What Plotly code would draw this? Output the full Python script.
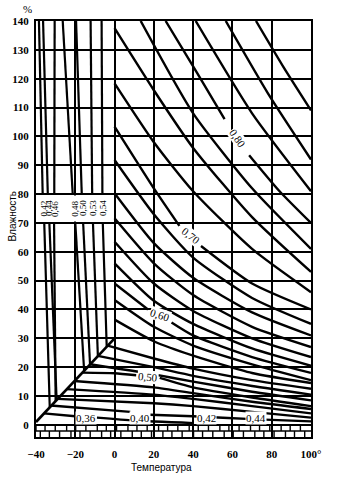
import plotly.graph_objects as go

# ---------------- data ----------------
x_ticks = [-40, -20, 0, 20, 40, 60, 80, 100]
x_ticktext = ["\u221240", "\u221220", "0", "20", "40", "60", "80", "100\u00b0"]
y_ticks = list(range(0, 141, 10))

# right / lower family of isolines (temperature, humidity), None = label gap
right_lines = [
    [(72, 140), (86, 124), (100, 109)],
    [(56.6, 140), (78, 115), (100, 92)],
    [(41.3, 140), (70, 108), (100, 81)],
    [(26, 140), (42, 122), (56, 106), None, (68.5, 93.5), (84, 81), (100, 70)],
    [(13.3, 140), (40, 108), (70, 82), (100, 61)],
    [(0, 137.5), (20, 116), (40, 96), (70, 72), (100, 53)],
    [(0, 118.4), (20, 98), (40, 81), (70, 61), (100, 46)],
    [(0, 103.4), (20, 82), (33, 69), None, (44, 62), (70, 49), (100, 40)],
    [(0, 91.8), (20, 73), (40, 58), (70, 44), (100, 35)],
    [(0, 80.3), (20, 63), (40, 51), (70, 39), (100, 31)],
    [(0, 71.6), (20, 56), (40, 45), (70, 34), (100, 27)],
    [(0, 63.5), (20, 49), (40, 39.5), (70, 30), (100, 23.5)],
    [(0, 56), (20, 43), (40, 35), (70, 26.5), (100, 20.5)],
    [(0, 49), (17, 40), None, (29, 35.5), (40, 31), (70, 23.5), (100, 18)],
    [(0, 43.3), (20, 34), (40, 27.5), (70, 21), (100, 15.5)],
    [(0, 36.5), (20, 29), (40, 24), (70, 18), (100, 14.5)],
    [(-3.5, 27.5), (20, 23), (40, 19.5), (70, 15.5), (100, 12.5)],
    [(-8.5, 23.9), (20, 20), (40, 17), (70, 13.5), (100, 10.5)],
    [(-12.5, 21), (20, 17.5), (40, 15), (70, 11.5), (100, 8.5)],
    [(-16.5, 18.1), (0, 17.9), (11, 17.2), None, (23, 16.3), (40, 13), (70, 9.5), (100, 6.5)],
    [(-20.5, 15.2), (20, 13), (40, 11), (70, 8), (100, 5.5)],
    [(-24.5, 12.4), (20, 10.5), (40, 9), (70, 6.5), (100, 4)],
    [(-29, 9), (20, 7.5), (40, 6.5), (70, 4.5), (100, 2.5)],
    [(-32.5, 6.7), (8, 4.5), None, (18, 3.5), (40, 3.0), (70, 2.0), (100, 1.2)],
    [(-36, 4.0), (-20, 3.0), None, (-9, 2.5), (10, 1.5), (40, 0.6)],
]

# left family of near-vertical isolines (broken by the label box 70..80)
left_lines = [
    [(-38.5, 140), (-36.6, 80), None, (-35.8, 70), (-33, 6)],
    [(-36.4, 140), (-34, 80), None, (-33.2, 70), (-29.5, 8.7)],
    [(-30.5, 140), (-30.7, 80), None, (-30.8, 70), (-30, 8.3)],
    [(-26.4, 140), (-21.3, 80), None, (-20, 70), (-15.5, 18.8)],
    [(-19.6, 140), (-16.7, 80), None, (-16, 70), (-12.5, 21)],
    [(-12.2, 140), (-11.4, 80), None, (-11, 70), (-8.5, 23.8)],
    [(-6.6, 140), (-6.2, 80), None, (-6, 70), (-4, 27.1)],
]
left_labels = ["0,42", "0,44", "0,46", "0,48", "0,50", "0,53", "0,54"]
left_label_T = [-36.4, -33.6, -30.6, -20.6, -16.3, -11.2, -6.1]

# separating diagonal
diag_T = [-40, 0]
diag_W = [1, 30]

# in-line labels
lab_text = ["0,80", "0,70", "0,60", "0,50", "0,36", "0,40", "0,42", "0,44"]
lab_T = [62.6, 39, 23, 17, -14.5, 13, 47, 72]
lab_W = [99.5, 65.5, 38, 16.7, 2.3, 2.3, 2.3, 2.3]
lab_angle = [55, 38, 18, 5, 0, 0, 0, 0]

# ---------------- figure ----------------
fig = go.Figure()


def add_poly(pts, width):
    xs, ys = [], []
    for p in pts:
        if p is None:
            xs.append(None)
            ys.append(None)
        else:
            xs.append(p[0])
            ys.append(p[1])
    fig.add_trace(go.Scatter(x=xs, y=ys, mode="lines",
                             line=dict(color="black", width=width, shape="spline", smoothing=0.6),
                             hoverinfo="skip", showlegend=False, connectgaps=False))


for ln in right_lines:
    add_poly(ln, 2.4)
for ln in left_lines:
    add_poly(ln, 2.2)

fig.add_trace(go.Scatter(x=diag_T, y=diag_W, mode="lines", line=dict(color="black", width=2.6),
                         hoverinfo="skip", showlegend=False))

# brick band below zero (decorative)
bx, by = [], []
band_top, band_mid, band_bot = 0, -2.1, -4.2
t = -40.0
k = 0
while t <= 100:
    bx += [t, t, None]
    by += [band_top, band_mid, None]
    bx += [t + 2.2, t + 2.2, None]
    by += [band_mid, band_bot, None]
    t += 4.6 + (k % 3) * 0.6
    k += 1
bx += [-40, 100, None]
by += [band_mid, band_mid, None]
fig.add_trace(go.Scatter(x=bx, y=by, mode="lines", line=dict(color="black", width=1.4),
                         hoverinfo="skip", showlegend=False, connectgaps=False))

# white label box in the left region
fig.add_shape(type="rect", x0=-39.6, x1=-0.6, y0=70.5, y1=79.5, fillcolor="white",
              line=dict(width=0), layer="between")

for txt, tt in zip(left_labels, left_label_T):
    fig.add_annotation(x=tt, y=75, text=txt, textangle=-90, showarrow=False,
                       font=dict(family="Liberation Serif", size=9, color="black"))

for txt, tt, ww, ang in zip(lab_text, lab_T, lab_W, lab_angle):
    fig.add_annotation(x=tt, y=ww, text=txt, textangle=ang, showarrow=False, bgcolor="white",
                       borderpad=0, font=dict(family="Liberation Serif", size=11, color="black"))

fig.add_annotation(xref="paper", yref="paper", x=0, y=1.0, xanchor="center", yanchor="middle",
                   xshift=-9, yshift=12, text="%", showarrow=False,
                   font=dict(family="Liberation Serif", size=11, color="black"))
fig.add_annotation(xref="paper", yref="paper", x=-0.087, y=0.53, xanchor="center", yanchor="middle",
                   text="Влажность", textangle=-90, showarrow=False,
                   font=dict(family="Liberation Sans", size=10, color="black"))
fig.add_annotation(xref="paper", yref="paper", x=0.458, y=0, xanchor="center", yanchor="middle",
                   yshift=-30, text="Температура", showarrow=False,
                   font=dict(family="Liberation Sans", size=10, color="black"))

fig.update_xaxes(range=[-40, 100], tickvals=x_ticks, ticktext=x_ticktext, showgrid=True,
                 gridcolor="black", gridwidth=1.6, zeroline=False, showline=True, linecolor="black",
                 linewidth=2, mirror=True, ticks="", ticklabelstandoff=6,
                 tickfont=dict(family="Liberation Serif", size=11, color="black", weight="bold"))
fig.update_yaxes(range=[-4.2, 140], tickvals=y_ticks, showgrid=True, gridcolor="black", gridwidth=1.6,
                 zeroline=False, showline=True, linecolor="black", linewidth=2, mirror=True, ticks="",
                 ticklabelstandoff=3,
                 tickfont=dict(family="Liberation Serif", size=11, color="black", weight="bold"))

fig.update_layout(width=338, height=481, margin=dict(l=36, r=27, t=21, b=44), plot_bgcolor="white",
                  paper_bgcolor="white", showlegend=False)

fig.write_html("out.html")
